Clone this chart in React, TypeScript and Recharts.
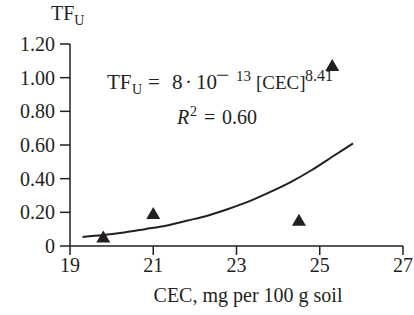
import { ComposedChart, Line, Scatter, XAxis, YAxis } from "recharts";

const xTicks = [19, 21, 23, 25, 27];
const yTicks = [0, 0.2, 0.4, 0.6, 0.8, 1.0, 1.2];

// measured points (CEC, TF_U)
const cec = [19.8, 21.0, 24.5, 25.3];
const tfU = [0.05, 0.19, 0.15, 1.07];

// fitted curve
const fitCec = [19.3, 19.8, 20.3, 20.8, 21.3, 21.8, 22.3, 22.8, 23.3, 23.8, 24.3, 24.8, 25.3, 25.8];
const fitTf = [0.054, 0.065, 0.08, 0.1, 0.12, 0.15, 0.18, 0.22, 0.265, 0.32, 0.38, 0.45, 0.53, 0.61];

const points = cec.map((x, i) => ({ x, y: tfU[i] }));
const curve = fitCec.map((x, i) => ({ x, y: fitTf[i] }));

const INK = "#231f20";
const FONT = "'Liberation Serif', 'DejaVu Serif', serif";

const Triangle = (props: any) => {
  const { cx, cy } = props;
  if (cx == null || cy == null) return null;
  return <path d={`M${cx},${cy - 7} L${cx + 7},${cy + 5} L${cx - 7},${cy + 5} Z`} fill={INK} />;
};

export default function App() {
  return (
    <div style={{ position: "absolute", left: 0, top: 0, background: "#fff" }}>
      <ComposedChart width={414} height={315} margin={{ top: 44, right: 11, bottom: 30, left: 0 }}>
        <XAxis
          type="number"
          dataKey="x"
          domain={[19, 27]}
          ticks={xTicks}
          allowDataOverflow
          height={39}
          tickSize={9}
          stroke={INK}
          strokeWidth={1.5}
          tick={{ fill: INK, fontSize: 20, fontFamily: FONT }}
          tickMargin={3}
        />
        <YAxis
          type="number"
          dataKey="y"
          domain={[0, 1.2]}
          ticks={yTicks}
          width={70}
          tickSize={10}
          stroke={INK}
          strokeWidth={1.5}
          tickFormatter={(v: number) => (v === 0 ? "0" : v.toFixed(2))}
          tick={{ fill: INK, fontSize: 20, fontFamily: FONT }}
          tickMargin={5}
        />
        <Line
          data={curve}
          dataKey="y"
          type="monotone"
          stroke={INK}
          strokeWidth={2}
          dot={false}
          isAnimationActive={false}
        />
        <Scatter data={points} dataKey="y" shape={Triangle} isAnimationActive={false} />
        <text x={51} y={20} fill={INK} fontSize={20} fontFamily={FONT}>
          TF<tspan fontSize={14} dy={5}>U</tspan>
        </text>
        <text fill={INK} fontSize={21} fontFamily={FONT}>
          <tspan x={107} y={89}>TF</tspan>
          <tspan x={132} y={94} fontSize={14}>U</tspan>
          <tspan x={148} y={89}>=</tspan>
          <tspan x={172} y={89}>8</tspan>
          <tspan x={185} y={89}>·</tspan>
          <tspan x={196} y={89}>10</tspan>
          <tspan x={216} y={83} fontSize={24}>−</tspan>
          <tspan x={236} y={81} fontSize={15}>13</tspan>
          <tspan x={256} y={89} fontSize={19}>[CEC]</tspan>
          <tspan x={305} y={81} fontSize={16}>8.41</tspan>
        </text>
        <text fill={INK} fontSize={20} fontFamily={FONT}>
          <tspan x={177} y={124} fontStyle="italic">R</tspan>
          <tspan x={190} y={116} fontSize={14}>2</tspan>
          <tspan x={204} y={124}>=</tspan>
          <tspan x={222} y={124}>0.60</tspan>
        </text>
        <text x={248} y={302} fill={INK} fontSize={20} fontFamily={FONT} textAnchor="middle">
          CEC, mg per 100 g soil
        </text>
      </ComposedChart>
    </div>
  );
}
